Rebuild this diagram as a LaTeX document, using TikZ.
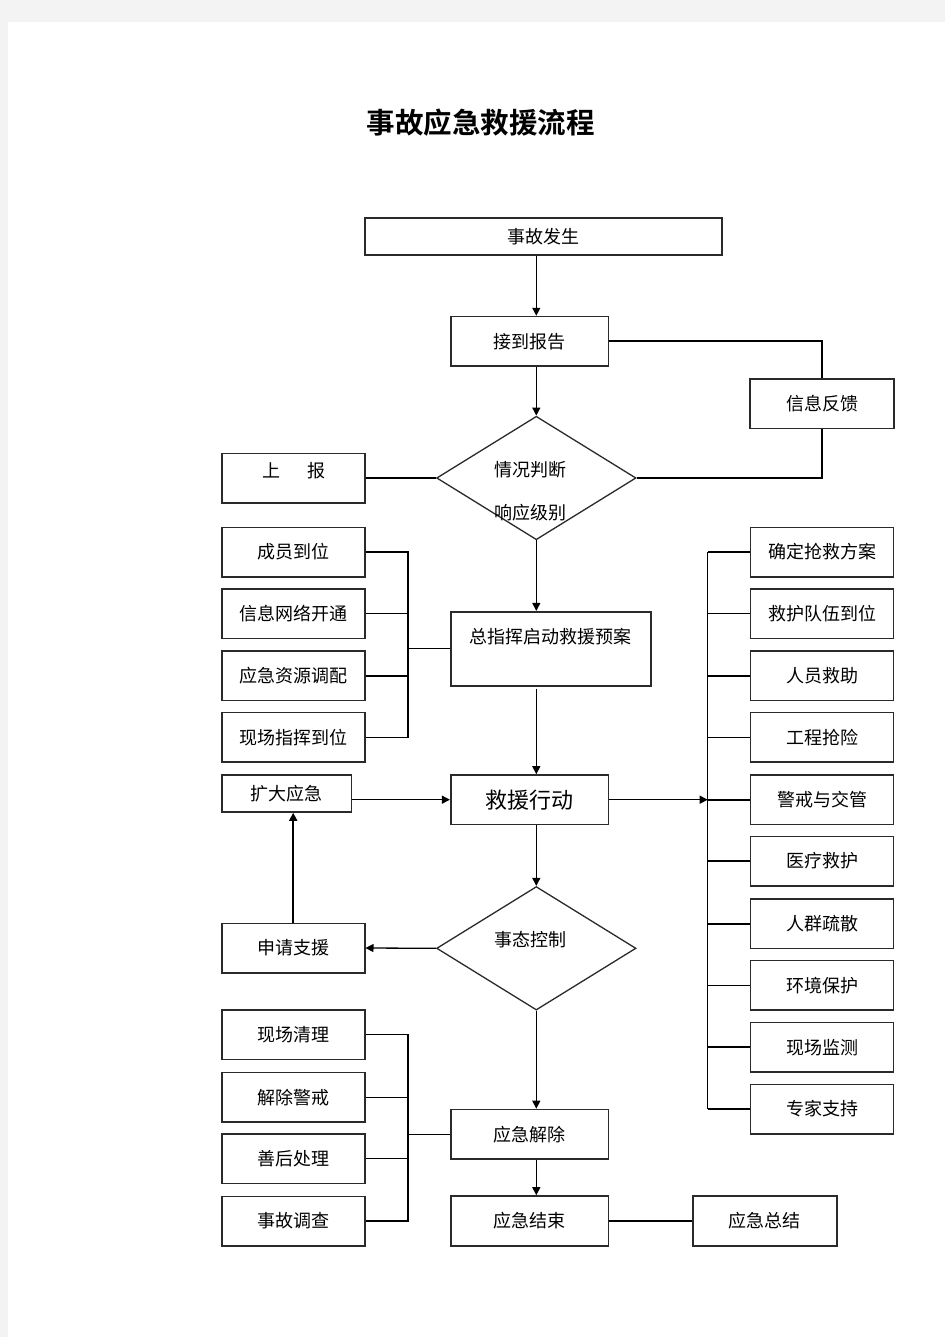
\documentclass[tikz,border=0pt]{standalone}
\usepackage{fontspec}
\newfontfamily\cjk[BoldFont=Noto Sans CJK SC Bold]{Noto Sans CJK SC}
\usetikzlibrary{shapes.geometric,arrows.meta}
\definecolor{pagegray}{HTML}{F3F3F3}
\definecolor{edge}{HTML}{2A2A2A}
\begin{document}
\begin{tikzpicture}[x=1pt,y=-1pt,
  every node/.style={font=\cjk\fontsize{18}{20}\selectfont, inner sep=0pt},
  box/.style={draw=edge, line width=1.6pt, rectangle, fill=white},
  sbox/.style={box, minimum width=143pt, minimum height=49.4pt},
  mbox/.style={box, minimum width=157.6pt, minimum height=49.4pt},
  dia/.style={draw=edge, line width=1.3pt, diamond, minimum width=199.4pt, minimum height=123.5pt},
  conn/.style={draw=black, line width=1.3pt},
  tconn/.style={draw=black, line width=2.3pt},
  arr/.style={conn, -{Triangle[length=8pt,width=8pt]}}
]
% page
\path[fill=pagegray] (0,0) rectangle (945,1337);
\path[fill=white] (8,22) rectangle (945,1337);

% title
\node[font=\cjk\bfseries\fontsize{28.5}{30}\selectfont] (title) at (480.5,123) {事故应急救援流程};

% main column
\node[box, minimum width=357pt, minimum height=37pt] (start) at (543.5,236.5) {事故发生};
\node[mbox] (report) at (529.5,341.3) {接到报告};
\node[sbox, minimum width=144pt] (fb) at (822,403.7) {信息反馈};
\node[dia] (d1) at (536.3,478) {};
\node (d1a) at (530.5,470) {情况判断};
\node (d1b) at (530.5,513) {响应级别};
\node[sbox] (up) at (293.2,478) {};
\node (upt) at (293.5,471) {上\hspace{1.5em}报};

% left group 1
\node[sbox] (m1) at (293.2,552) {成员到位};
\node[sbox] (m2) at (293.2,613.7) {信息网络开通};
\node[sbox] (m3) at (293.2,675.8) {应急资源调配};
\node[sbox] (m4) at (293.2,737.3) {现场指挥到位};

\node[box, minimum width=200pt, minimum height=74pt] (cmd) at (550.7,648.7) {};
\node (cmdt) at (550.7,636.7) {总指挥启动救援预案};

\node[mbox, font=\cjk\fontsize{22}{24}\selectfont] (act) at (529.5,799.7) {救援行动};
\node[box, minimum width=129.6pt, minimum height=37pt] (kd) at (286.5,793.5) {扩大应急};

% right group
\node[sbox] (r1) at (822,552) {确定抢救方案};
\node[sbox] (r2) at (822,613.7) {救护队伍到位};
\node[sbox] (r3) at (822,675.8) {人员救助};
\node[sbox] (r4) at (822,737.3) {工程抢险};
\node[sbox] (r5) at (822,799.7) {警戒与交管};
\node[sbox] (r6) at (822,861) {医疗救护};
\node[sbox] (r7) at (822,923.7) {人群疏散};
\node[sbox] (r8) at (822,985.3) {环境保护};
\node[sbox] (r9) at (822,1047.3) {现场监测};
\node[sbox] (r10) at (822,1109) {专家支持};

\node[dia] (d2) at (536.3,948.3) {};
\node (d2t) at (530.5,939.5) {事态控制};
\node[sbox] (sq) at (293.2,948) {申请支援};

% left group 2
\node[sbox] (l1) at (293.2,1034.7) {现场清理};
\node[sbox] (l2) at (293.2,1097.2) {解除警戒};
\node[sbox] (l3) at (293.2,1158.7) {善后处理};
\node[sbox] (l4) at (293.2,1221) {事故调查};

\node[mbox] (rel) at (529.5,1134.2) {应急解除};
\node[mbox, minimum height=50pt] (fin) at (529.5,1221) {应急结束};
\node[sbox, minimum width=144pt, minimum height=50pt] (sum) at (764.7,1221) {应急总结};

% bus coordinates
\coordinate (lbus) at (408,648.7);
\coordinate (rbus) at (707.7,799.7);
\coordinate (lbus2) at (408,1134.2);

% connectors: main spine
\draw[arr] (start.south -| d1.north) -- (report.north -| d1.north);
\draw[arr] (report.south -| d1.north) -- (d1.north);
\draw[tconn, line width=1.8pt] (report.east) -| (fb.north);
\draw[conn] (fb.south) |- (d1.east);
\draw[conn, line width=1.8pt] (up.east) -- (d1.west);
\draw[arr] (d1.south) -- (cmd.north -| d1.south);
\draw[arr, shorten <=2pt] (cmd.south -| d1.south) -- (act.north -| d1.south);

% left group 1 bus
\draw[tconn] (m1.east) -| (lbus);
\draw[conn] (m4.east) -| (lbus);
\draw[conn] (m2.east) -- (m2.east -| lbus);
\draw[tconn] (m3.east) -- (m3.east -| lbus);
\draw[conn] (lbus) -- (cmd.west);

% expand / support
\draw[arr] (kd.east |- act.west) -- (act.west);
\draw[arr, line width=1.8pt] (sq.north) -- (sq.north |- kd.south);

% right bus
\draw[conn] (r1.west -| rbus) -- (r10.west -| rbus);
\draw[arr] (act.east) -- (rbus);
\draw[tconn] (r1.west) -- (r1.west -| rbus);
\draw[conn] (r2.west) -- (r2.west -| rbus);
\draw[tconn] (r3.west) -- (r3.west -| rbus);
\draw[conn] (r4.west) -- (r4.west -| rbus);
\draw[tconn] (r5.west) -- (r5.west -| rbus);
\draw[conn] (r6.west) -- (r6.west -| rbus);
\draw[tconn] (r7.west) -- (r7.west -| rbus);
\draw[conn] (r8.west) -- (r8.west -| rbus);
\draw[tconn] (r9.west) -- (r9.west -| rbus);
\draw[conn] (r10.west) -- (r10.west -| rbus);

% lower spine
\draw[arr] (act.south -| d2.north) -- (d2.north);
\draw[arr] (d2.west) -- (sq.east);
\draw[arr] (d2.south) -- (rel.north -| d2.south);
\draw[arr] (rel.south -| d2.south) -- (fin.north -| d2.south);

% left group 2 bus
\draw[conn] (l1.east) -| (lbus2);
\draw[conn] (l4.east) -| (lbus2);
\draw[conn] (l2.east) -- (l2.east -| lbus2);
\draw[conn] (l3.east) -- (l3.east -| lbus2);
\draw[conn] (lbus2) -- (rel.west);

\draw[conn] (fin.east) -- (sum.west);
\end{tikzpicture}
\end{document}
